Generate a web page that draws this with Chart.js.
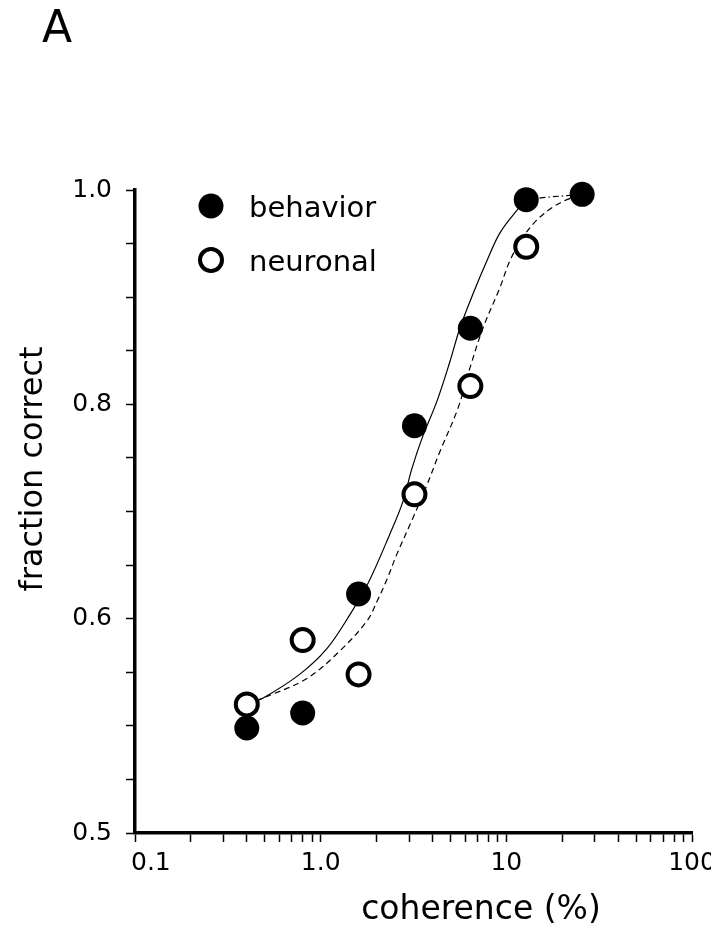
<!DOCTYPE html>
<html>
<head>
<meta charset="utf-8">
<script src="https://cdn.jsdelivr.net/npm/chart.js@4.4.0/dist/chart.umd.min.js"></script>
<style>
html,body{margin:0;padding:0;background:#fff;}
canvas{display:block;}
</style>
</head>
<body>
<canvas id="c" width="711" height="931"></canvas>
<script>
// ---- data ----
const coherence = [0.4, 0.8, 1.6, 3.2, 6.4, 12.8, 25.6];
const behavior  = [0.549, 0.556, 0.623, 0.780, 0.871, 0.991, 0.996];
const neuronal  = [0.560, 0.590, 0.574, 0.716, 0.817, 0.947, null];

const behaviorFitX = [0.4, 0.49, 0.77, 1.08, 1.44, 1.80, 2.36, 2.77, 3.10, 3.51, 4.23, 4.97, 5.62, 6.61, 7.86, 9.24, 11.4, 12.8, 25.6];
const behaviorFitY = [0.560, 0.563, 0.574, 0.586, 0.604, 0.633, 0.679, 0.709, 0.740, 0.768, 0.803, 0.840, 0.871, 0.903, 0.934, 0.960, 0.981, 0.990, 0.996];
const neuronalFitX = [0.4, 0.49, 0.84, 1.27, 1.78, 2.01, 2.28, 2.57, 3.14, 3.74, 4.39, 5.48, 6.37, 7.48, 9.24, 10.45, 12.3, 14.6, 17.8, 21.2, 25.6];
const neuronalFitY = [0.560, 0.563, 0.572, 0.585, 0.599, 0.616, 0.637, 0.660, 0.694, 0.725, 0.756, 0.796, 0.834, 0.871, 0.909, 0.934, 0.956, 0.972, 0.984, 0.991, 0.996];

const xTickValues = [0.1,0.2,0.3,0.4,0.5,0.6,0.7,0.8,0.9,1,2,3,4,5,6,7,8,9,10,20,30,40,50,60,70,80,90,100];
const xLabelValues = [0.1, 1, 10, 100];
const xLabelTexts  = ['0.1', '1.0', '10', '100'];
const yTickValues = [0.5,0.525,0.55,0.575,0.6,0.65,0.7,0.75,0.8,0.85,0.9,0.95,1.0];
const yLabelValues = [0.5, 0.6, 0.8, 1.0];
const yLabelTexts  = ['0.5', '0.6', '0.8', '1.0'];
const yBreaks = [0.5, 0.6, 0.8, 1.0]; // equally spaced along the printed axis

const panelLabel = 'A';
const xTitle = 'coherence (%)';
const yTitle = 'fraction correct';
const seriesNames = ['behavior', 'neuronal'];

// ---- piecewise-linear y scale (as printed) ----
function toDec(v){
  const n = yBreaks.length - 1;
  for (let i = 0; i < n; i++) {
    const a = yBreaks[i], b = yBreaks[i+1];
    if (v <= b || i === n - 1) return (i + (v - a) / (b - a)) / n;
  }
}
function fromDec(d){
  const n = yBreaks.length - 1;
  const s = d * n;
  const i = Math.min(Math.max(Math.floor(s), 0), n - 1);
  return yBreaks[i] + (s - i) * (yBreaks[i+1] - yBreaks[i]);
}
class BrokenLinearScale extends Chart.LinearScale {
  getPixelForValue(v){
    if (v === null || v === undefined || isNaN(v)) return NaN;
    return this.getPixelForDecimal(toDec(v));
  }
  getValueForPixel(p){ return fromDec(this.getDecimalForPixel(p)); }
  buildTicks(){ return yTickValues.map(v => ({value: v})); }
}
BrokenLinearScale.id = 'brokenLinear';
BrokenLinearScale.defaults = Chart.LinearScale.defaults;
Chart.register(BrokenLinearScale);

const FONT = 'DejaVu Sans';

function pts(xs, ys){ return xs.map((x,i)=>({x:x, y:ys[i]})).filter(p => p.y !== null); }

const overlay = {
  id: 'overlay',
  afterDraw(chart){
    const ctx = chart.ctx;
    ctx.save();
    ctx.fillStyle = '#000';
    ctx.textBaseline = 'alphabetic';
    // panel label
    ctx.font = '44px "' + FONT + '"';
    ctx.textAlign = 'left';
    ctx.fillText(panelLabel, 42, 42);
    // x title
    ctx.font = '33px "' + FONT + '"';
    ctx.textAlign = 'center';
    ctx.fillText(xTitle, 481, 919);
    // y title
    ctx.save();
    ctx.translate(42, 469);
    ctx.rotate(-Math.PI/2);
    ctx.font = '32px "' + FONT + '"';
    ctx.textAlign = 'center';
    ctx.fillText(yTitle, 0, 0);
    ctx.restore();
    // legend (from dataset styles)
    const items = [chart.data.datasets[1], chart.data.datasets[0]];
    const ys = [206, 260];
    items.forEach((ds, i) => {
      ctx.beginPath();
      ctx.arc(211, ys[i], ds.pointRadius, 0, Math.PI*2);
      ctx.fillStyle = ds.pointBackgroundColor;
      ctx.fill();
      if (ds.pointBorderWidth > 0) {
        ctx.lineWidth = ds.pointBorderWidth;
        ctx.strokeStyle = ds.pointBorderColor;
        ctx.stroke();
      }
      ctx.fillStyle = '#000';
      ctx.font = '29px "' + FONT + '"';
      ctx.textAlign = 'left';
      ctx.fillText(ds.label, 249, ys[i] + 11);
    });
    ctx.restore();
  }
};

new Chart(document.getElementById('c'), {
  type: 'scatter',
  data: {
    datasets: [
      { label: seriesNames[1], data: pts(coherence, neuronal), pointRadius: 11, pointBorderWidth: 4,
        pointBackgroundColor: '#fff', pointBorderColor: '#000', showLine: false, order: 0, clip: false },
      { label: seriesNames[0], data: pts(coherence, behavior), pointRadius: 12.5, pointBorderWidth: 0,
        pointBackgroundColor: '#000', pointBorderColor: '#000', showLine: false, order: 1, clip: false },
      { label: 'behavior fit', data: pts(behaviorFitX, behaviorFitY), showLine: true, pointRadius: 0,
        borderColor: '#000', borderWidth: 1.2, tension: 0.35, order: 2, clip: false,
        segment: { borderDash: c => c.p0DataIndex >= behaviorFitX.length - 2 ? [6,3,1.5,3] : undefined } },
      { label: 'neuronal fit', data: pts(neuronalFitX, neuronalFitY), showLine: true, pointRadius: 0,
        borderColor: '#000', borderWidth: 1.2, borderDash: [6,4], tension: 0.35, order: 3, clip: false }
    ]
  },
  options: {
    responsive: false,
    animation: false,
    devicePixelRatio: 1,
    layout: { padding: { top: 190, right: 19, left: 0, bottom: 0 } },
    plugins: { legend: { display: false }, tooltip: { enabled: false } },
    scales: {
      x: {
        type: 'logarithmic', min: 0.1, max: 100, position: 'bottom',
        afterBuildTicks: s => { s.ticks = xTickValues.map(v => ({value: v})); },
        afterFit: s => { s.height = 931 - 833; s.paddingLeft = 0; s.paddingRight = 0; },
        grid: { display: true, drawOnChartArea: false, drawTicks: true, tickLength: 9, tickWidth: 1.5, tickColor: '#000' },
        border: { display: true, color: '#000', width: 3.5 },
        ticks: {
          autoSkip: false, maxRotation: 0, minRotation: 0, padding: 6, color: '#000',
          font: { family: FONT, size: 25 },
          callback: v => {
            const i = xLabelValues.findIndex(a => Math.abs(a - v) < 1e-9);
            if (i < 0) return '';
            return i === 0 ? '    ' + xLabelTexts[i] : xLabelTexts[i];
          }
        }
      },
      y: {
        type: 'brokenLinear', min: 0.5, max: 1.0, position: 'left',
        afterFit: s => { s.width = 135; s.paddingTop = 0; s.paddingBottom = 0; },
        grid: { display: true, drawOnChartArea: false, drawTicks: true, tickLength: 9, tickWidth: 1.5, tickColor: '#000' },
        border: { display: true, color: '#000', width: 3.5 },
        ticks: {
          autoSkip: false, padding: 14, color: '#000',
          font: { family: FONT, size: 25 },
          callback: v => {
            const i = yLabelValues.findIndex(a => Math.abs(a - v) < 1e-9);
            return i < 0 ? '' : yLabelTexts[i];
          }
        }
      }
    }
  },
  plugins: [overlay]
});
</script>
</body>
</html>
